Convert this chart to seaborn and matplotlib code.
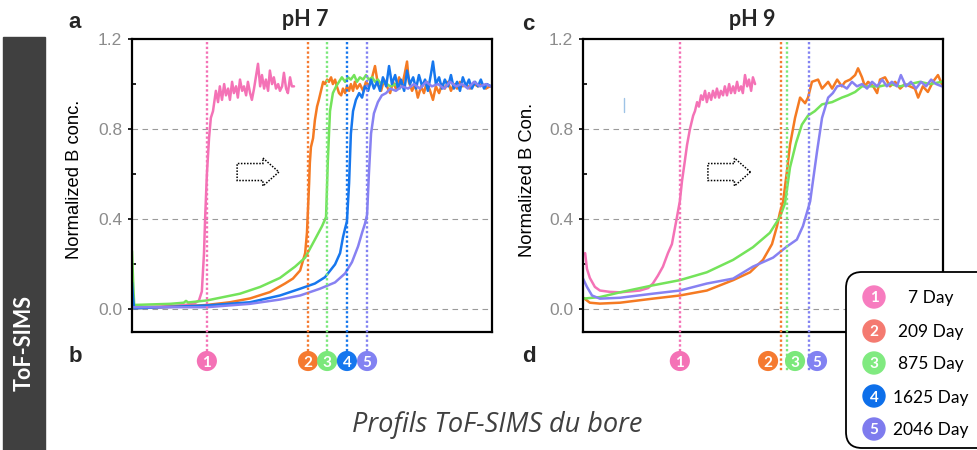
import numpy as np
import pandas as pd
import matplotlib
matplotlib.use("Agg")
import matplotlib.pyplot as plt
import seaborn as sns
from matplotlib.patches import FancyArrow, FancyBboxPatch, Rectangle, Circle
from matplotlib.transforms import blended_transform_factory

sns.set_theme(style="white")
plt.rcParams["font.family"] = ["Liberation Sans", "DejaVu Sans"]

# ---------------------------------------------------------------- data
ages = ["7 Day", "209 Day", "875 Day", "1625 Day", "2046 Day"]

# pH 7 boron depth profiles (depth in arbitrary sputter units, 0-100)
ph7_d1 = [0.0, 5.0, 10.6, 14.7, 17.5, 18.6, 19.4, 20.0, 20.3, 20.8, 21.4, 21.9, 22.5,
          23.3, 23.9, 24.4, 25.0, 25.6, 26.1, 26.7, 27.2, 27.8, 28.3, 28.9, 29.4, 30.0,
          30.6, 31.1, 31.7, 32.2, 32.8, 33.3, 33.9, 34.4, 35.0, 35.6, 36.1, 36.7, 37.2,
          37.8, 38.3, 38.9, 39.4, 40.0, 40.6, 41.1, 41.7, 42.2, 42.8, 43.3, 43.9, 44.4, 45.0]
ph7_c1 = [0.010, 0.012, 0.015, 0.020, 0.028, 0.040, 0.080, 0.250, 0.400, 0.600, 0.760, 0.850, 0.880,
          0.97, 0.92, 0.99, 0.93, 1.00, 0.95, 0.98, 0.93, 1.01, 0.96, 0.99, 0.94, 1.02,
          0.97, 0.99, 0.95, 1.01, 0.96, 0.93, 0.98, 1.03, 1.09, 0.99, 1.04, 0.98, 1.02,
          0.97, 1.06, 1.00, 1.03, 0.98, 1.00, 0.97, 0.99, 1.05, 0.98, 0.96, 1.03, 0.99, 0.99]

ph7_d2 = [0.0, 5.0, 13.3, 20.8, 27.2, 32.8, 38.3, 42.5, 44.7, 46.7, 48.1, 48.6, 48.9, 49.2,
          49.4, 49.7, 50.3, 50.8, 51.4, 51.9, 52.5, 53.1, 53.6, 54.2, 54.7, 55.3, 55.8, 56.4,
          56.9, 57.5, 58.1, 58.6, 59.2, 59.7, 60.3, 60.8, 61.4, 61.9, 62.5, 63.3, 64.2, 65.0,
          65.8, 66.7, 67.5, 68.3, 69.2, 70.0, 70.8, 71.7, 72.5, 73.3, 74.2, 75.0, 75.8, 76.4,
          76.9, 77.8, 78.6, 79.4, 80.3, 81.1, 81.9, 82.8, 83.6, 84.4, 85.3, 86.1, 86.9, 87.8,
          88.6, 89.4, 90.3, 91.1, 91.9, 92.8, 93.9, 95.0, 96.1, 97.2, 98.3, 99.4]
ph7_c2 = [0.005, 0.008, 0.013, 0.020, 0.032, 0.049, 0.077, 0.115, 0.137, 0.173, 0.250, 0.340, 0.450, 0.560,
          0.650, 0.720, 0.760, 0.840, 0.900, 0.930, 0.970, 1.010, 1.000, 1.020, 1.010, 1.030, 1.000, 1.020,
          0.990, 0.960, 0.950, 0.980, 0.960, 0.990, 0.970, 1.000, 0.970, 1.010, 0.980, 1.000, 0.970, 1.010,
          0.990, 1.030, 1.080, 1.000, 0.970, 1.020, 0.990, 0.960, 1.010, 0.980, 1.030, 0.990, 1.050, 1.100,
          1.010, 0.970, 1.000, 0.940, 0.990, 0.960, 1.010, 0.970, 0.930, 0.990, 0.960, 1.000, 0.980, 1.010,
          0.970, 1.000, 0.980, 1.010, 0.990, 1.000, 0.980, 1.000, 0.990, 1.000, 0.980, 0.990]

ph7_d3 = [0.0, 0.3, 0.6, 10.6, 14.4, 15.0, 15.6, 20.8, 30.0, 35.6, 41.1, 45.3, 48.1, 50.8,
          52.8, 53.9, 54.4, 55.0, 55.8, 56.7, 57.5, 58.3, 59.2, 60.0, 60.8, 61.7, 62.5, 63.3,
          64.2, 65.0, 65.8, 66.7, 67.5, 68.3, 69.2, 70.0, 71.7, 73.3, 74.4]
ph7_c3 = [0.26, 0.13, 0.02, 0.025, 0.030, 0.038, 0.031, 0.040, 0.070, 0.100, 0.140, 0.190, 0.230, 0.310,
          0.370, 0.410, 0.660, 0.880, 0.960, 0.990, 1.010, 1.030, 1.010, 1.030, 1.020, 1.040, 1.010, 1.030,
          1.020, 1.040, 1.020, 1.030, 1.010, 1.020, 1.000, 1.010, 0.990, 1.000, 0.980]

ph7_d4 = [0.0, 0.3, 0.6, 20.8, 32.8, 41.1, 46.7, 50.8, 53.6, 56.4, 57.8, 58.6, 59.2, 59.7,
          60.3, 60.8, 61.4, 62.2, 63.1, 63.9, 64.7, 65.6, 66.4, 67.2, 68.1, 68.9, 69.7, 70.6,
          71.4, 72.2, 73.1, 73.9, 74.7, 75.6, 76.4, 77.2, 78.1, 78.9, 79.7, 80.6, 81.4, 82.2,
          83.1, 83.6, 84.4, 85.3, 86.1, 86.9, 87.8, 88.6, 89.4, 90.3, 91.1, 91.9, 92.8, 93.6,
          94.4, 95.3, 96.1, 96.9, 97.8, 98.6, 99.7]
ph7_c4 = [0.12, 0.05, 0.005, 0.018, 0.032, 0.062, 0.092, 0.115, 0.143, 0.200, 0.250, 0.320, 0.360, 0.390,
          0.560, 0.780, 0.880, 0.930, 0.960, 0.940, 0.990, 0.970, 1.020, 0.980, 1.010, 0.970, 1.030, 0.990,
          1.080, 1.000, 1.040, 0.980, 1.020, 0.970, 1.060, 1.000, 1.030, 0.980, 1.040, 0.990, 1.020, 0.970,
          1.050, 1.100, 1.000, 1.030, 0.980, 1.020, 0.990, 1.040, 0.980, 1.010, 0.970, 1.030, 0.990, 1.020,
          0.980, 1.010, 0.990, 1.020, 0.980, 1.000, 0.990]

ph7_d5 = [0.0, 20.8, 32.8, 41.1, 46.7, 52.2, 56.4, 59.2, 61.1, 62.8, 63.9, 64.7, 65.3, 65.8,
          66.4, 67.2, 68.3, 69.4, 70.6, 71.7, 73.3, 75.0, 76.7, 78.3, 80.0, 81.7, 83.3, 85.0,
          86.7, 88.3, 90.0, 91.7, 93.3, 95.0, 96.7, 98.3, 99.7]
ph7_c5 = [0.010, 0.010, 0.025, 0.044, 0.062, 0.092, 0.120, 0.160, 0.210, 0.280, 0.340, 0.380, 0.420, 0.600,
          0.780, 0.870, 0.920, 0.950, 0.960, 0.980, 0.970, 0.990, 0.980, 1.000, 0.980, 1.010, 0.990, 1.000,
          0.980, 1.010, 0.990, 1.000, 0.980, 1.010, 0.990, 1.000, 0.990]

# pH 9 boron depth profiles
ph9_d1 = [0.6, 1.1, 1.9, 3.3, 4.7, 7.5, 10.3, 13.1, 15.8, 18.1, 19.4, 20.8, 22.2, 23.6,
          24.7, 26.1, 26.9, 27.5, 28.3, 28.9, 29.7, 30.6, 31.1, 31.7, 32.2, 32.8,
          33.3, 33.9, 34.4, 35.0, 35.6, 36.1, 36.7, 37.2, 37.8, 38.3, 38.9, 39.4, 40.0,
          40.6, 41.1, 41.7, 42.2, 42.8, 43.3, 43.9, 44.4, 45.0, 45.6, 46.1, 46.7, 47.2, 47.8]
ph9_c1 = [0.250, 0.180, 0.140, 0.100, 0.084, 0.078, 0.076, 0.080, 0.084, 0.095, 0.115, 0.150, 0.190, 0.250,
          0.290, 0.410, 0.480, 0.570, 0.660, 0.730, 0.800, 0.860, 0.880, 0.920, 0.900, 0.950,
          0.93, 0.97, 0.92, 0.96, 0.93, 0.97, 0.94, 0.98, 0.94, 0.97, 0.95, 0.99, 0.95,
          1.00, 0.96, 0.99, 0.96, 1.01, 0.97, 0.99, 0.96, 1.04, 0.99, 1.02, 0.97, 1.03, 1.00]

ph9_d2 = [0.0, 1.9, 4.7, 10.3, 19.4, 26.9, 34.4, 41.7, 46.4, 50.0, 52.5, 53.9, 54.7, 55.6,
          56.7, 57.5, 58.9, 60.3, 61.7, 62.5, 63.6, 65.3, 66.4, 68.1, 69.2, 70.6, 71.9, 72.8,
          74.2, 75.6, 76.4, 77.5, 78.3, 79.2, 80.6, 81.7, 82.5, 83.9, 85.3, 86.7, 88.1, 89.4,
          90.8, 92.2, 93.1, 94.4, 95.8, 97.2, 98.6, 99.7]
ph9_c2 = [0.053, 0.030, 0.026, 0.030, 0.048, 0.062, 0.084, 0.130, 0.165, 0.220, 0.290, 0.370, 0.430, 0.480,
          0.620, 0.730, 0.850, 0.940, 0.915, 0.940, 1.010, 1.020, 0.980, 1.010, 0.980, 1.020, 0.990, 1.010,
          1.020, 1.040, 1.070, 1.030, 0.990, 1.010, 0.990, 0.960, 1.020, 1.030, 0.990, 1.010, 0.980, 1.000,
          0.990, 0.980, 0.940, 0.990, 0.965, 1.010, 1.040, 1.000]

ph9_d3 = [0.0, 4.7, 10.3, 19.4, 26.9, 34.4, 41.7, 47.2, 51.9, 54.7, 56.1, 57.5, 59.2, 60.8,
          62.5, 64.4, 66.4, 69.2, 71.9, 73.6, 75.6, 77.5, 80.3, 82.5, 85.3, 88.1, 90.8, 93.6,
          96.4, 99.7]
ph9_c3 = [0.048, 0.055, 0.076, 0.107, 0.130, 0.165, 0.220, 0.276, 0.340, 0.410, 0.470, 0.630, 0.740, 0.820,
          0.860, 0.880, 0.910, 0.920, 0.940, 0.950, 0.965, 0.990, 0.990, 0.990, 1.000, 0.990, 1.000, 1.010,
          1.000, 1.010]

ph9_d5 = [0.0, 1.1, 2.5, 4.7, 10.3, 19.4, 26.9, 34.4, 41.7, 47.2, 52.8, 56.7, 59.4, 61.1,
          62.2, 63.1, 65.0, 66.4, 68.1, 69.4, 70.6, 71.9, 73.3, 74.7, 76.1, 77.5, 78.9, 80.3,
          81.7, 83.1, 84.4, 85.8, 87.2, 88.3, 89.7, 91.1, 92.5, 93.9, 95.3, 96.7, 98.1, 99.7]
ph9_c5 = [0.137, 0.100, 0.062, 0.048, 0.052, 0.070, 0.084, 0.115, 0.137, 0.190, 0.230, 0.280, 0.310, 0.370,
          0.430, 0.480, 0.700, 0.850, 0.940, 0.960, 0.990, 0.995, 0.980, 1.010, 0.990, 1.000, 0.980, 1.010,
          0.990, 1.020, 0.990, 1.010, 0.990, 1.040, 0.990, 1.010, 0.980, 1.010, 0.990, 1.020, 1.000, 0.990]

# breakthrough depth of each profile (dotted markers) and badge positions
front_ph7 = [20.8, 48.9, 54.2, 59.7, 65.3]
badge_ph7 = [20.8, 48.9, 54.2, 59.7, 65.3]
ids_ph7 = [1, 2, 3, 4, 5]
front_ph9 = [26.9, 55.0, 56.7, 62.8]
badge_ph9 = [26.9, 51.4, 58.9, 65.0]
ids_ph9 = [1, 2, 3, 5]

# ---------------------------------------------------------------- style
line_colors = ["#F472B6", "#F57A22", "#74E35A", "#1677EE", "#8781F2"]
badge_colors = ["#F472B6", "#F57A30", "#7BE87B", "#1677EE", "#8282F2"]
legend_colors = ["#F77CBF", "#F47A70", "#80EA80", "#0D6FEA", "#7E7BEE"]
tick_gray = "#8C8C8C"


def profile_frame(depths, concs, labels):
    parts = [pd.DataFrame({"depth": d, "conc": c, "age": lab})
             for d, c, lab in zip(depths, concs, labels)]
    return pd.concat(parts, ignore_index=True)


df7 = profile_frame([ph7_d1, ph7_d2, ph7_d3, ph7_d4, ph7_d5],
                    [ph7_c1, ph7_c2, ph7_c3, ph7_c4, ph7_c5], ages)
ages9 = [ages[i - 1] for i in ids_ph9]
df9 = profile_frame([ph9_d1, ph9_d2, ph9_d3, ph9_d5],
                    [ph9_c1, ph9_c2, ph9_c3, ph9_c5], ages9)

fig = plt.figure(figsize=(9.77, 4.5), dpi=100)
fig.patch.set_facecolor("white")

W, H = 977.0, 450.0
ax7 = fig.add_axes([132 / W, 118 / H, 360 / W, 293 / H])
ax9 = fig.add_axes([583 / W, 118 / H, 360 / W, 293 / H])


def style_axes(ax, ylabel, df, ids, fronts, badges):
    pal = {ages[i - 1]: line_colors[i - 1] for i in ids}
    sns.lineplot(data=df, x="depth", y="conc", hue="age", hue_order=[ages[i - 1] for i in ids],
                 palette=pal, estimator=None, sort=False, legend=False, lw=1.8, ax=ax)
    ax.set_xlim(0, 100)
    ax.set_ylim(-0.1, 1.2)
    ax.set_xticks([])
    ax.set_yticks([0.0, 0.4, 0.8, 1.2])
    ax.set_yticklabels(["0.0", "0.4", "0.8", "1.2"])
    ax.set_yticks([0.2, 0.6, 1.0], minor=True)
    ax.tick_params(axis="y", which="major", left=True, direction="out", length=3, width=1.2,
                   color="black", labelcolor=tick_gray, labelsize=12.5, pad=4)
    ax.tick_params(axis="y", which="minor", left=True, direction="in", length=3, width=1.2,
                   color="black")
    for lab in ax.get_yticklabels():
        lab.set_fontfamily("Liberation Sans")
    ax.set_xlabel("")
    ax.set_ylabel(ylabel, fontsize=13.2, color="black", family="Liberation Sans")
    for sp in ax.spines.values():
        sp.set_visible(True)
        sp.set_color("black")
        sp.set_linewidth(1.6)
    for v in (0.0, 0.4, 0.8):
        ax.axhline(v, color="#9A9A9A", lw=0.8, ls=(0, (5, 4)), zorder=0.5)

    trans = blended_transform_factory(ax.transData, ax.transAxes)
    for i, xf in zip(ids, fronts):
        ax.plot([xf, xf], [0.99, -0.137], transform=trans, color=badge_colors[i - 1],
                lw=1.7, ls=(0, (1, 1)), clip_on=False, zorder=3)
    for i, xb in zip(ids, badges):
        ax.scatter([xb], [-0.099], transform=trans, s=210, color=badge_colors[i - 1],
                   edgecolor="none", clip_on=False, zorder=6)
        ax.text(xb, -0.099, str(i), transform=trans, ha="center", va="center_baseline",
                color="white", fontsize=11, fontweight="bold", family="Lato",
                clip_on=False, zorder=7)


style_axes(ax7, "Normalized B conc.", df7, ids_ph7, front_ph7, badge_ph7)
style_axes(ax9, "Normalized B Con.", df9, ids_ph9, front_ph9, badge_ph9)
ax7.yaxis.set_label_coords(-0.135, 0.52)
ax9.yaxis.set_label_coords(-0.13, 0.52)

# hollow dotted arrows showing the advance of the boron front
for ax, x0, dx in ((ax7, 0.292, 0.116), (ax9, 0.347, 0.118)):
    ax.add_patch(FancyArrow(x0, 0.546, dx, 0.0, width=0.058, head_width=0.0956,
                            head_length=0.0444, length_includes_head=True,
                            transform=ax.transAxes, fill=False, ec="black",
                            lw=1.1, ls=(0, (1, 1)), zorder=4))

# small stray tick mark inside the pH 9 panel
ax9.plot([11.4, 11.4], [0.875, 0.94], color="#9EC3E6", lw=1.0, zorder=2)

# ---------------------------------------------------------------- overlay (pixel coordinates)
ov = fig.add_axes([0, 0, 1, 1], zorder=5)
ov.set_xlim(0, W)
ov.set_ylim(H, 0)
ov.axis("off")
ov.patch.set_alpha(0)

ov.add_patch(Rectangle((3, 37), 42, 420, color="#404040", clip_on=False))
ov.text(24, 343, "ToF-SIMS", rotation=90, ha="center", va="center", color="white",
        fontsize=15.5, fontweight="bold", family="Lato")

ov.text(305, 19, "pH 7", ha="center", va="center", fontsize=15.5, fontweight="bold", family="Lato")
ov.text(752, 19, "pH 9", ha="center", va="center", fontsize=15.5, fontweight="bold", family="Lato")

for letter, (x, y) in zip("abcd", [(75, 23), (75, 357), (528, 24), (529, 357)]):
    ov.text(x, y, letter, ha="center", va="center", fontsize=16, fontweight="bold",
            family="Liberation Sans")

ov.text(497, 425, "Profils ToF-SIMS du bore", ha="center", va="center", fontsize=19.5,
        style="italic", color="#404040", family="Open Sans")

# legend box
ov.add_patch(FancyBboxPatch((846, 272), 170, 176, boxstyle="round,pad=0,rounding_size=16",
                            fc="white", ec="black", lw=1.3, clip_on=False))
for k, (lab, yy) in enumerate(zip(ages, [297, 331, 363, 396, 429])):
    ov.add_patch(Circle((874, yy), 11, color=legend_colors[k]))
    ov.text(874, yy, str(k + 1), ha="center", va="center_baseline", color="white",
            fontsize=11, fontweight="bold", family="Lato")
    ov.text(931, yy, lab, ha="center", va="center_baseline", color="black",
            fontsize=12.5, family="Lato")

fig.savefig("out.png", dpi=100)
